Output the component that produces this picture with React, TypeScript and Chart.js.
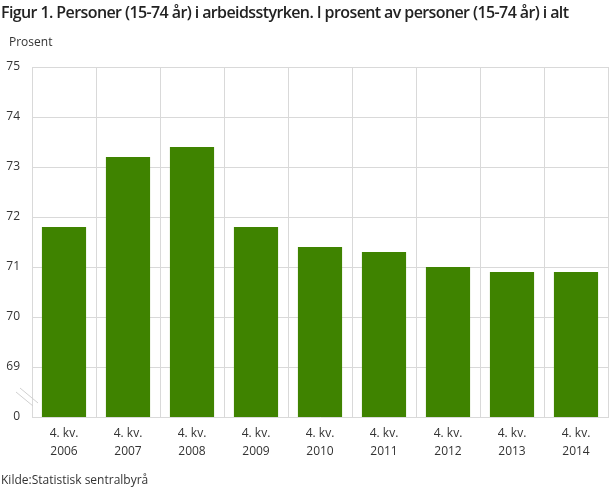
import { useEffect, useRef } from "react";
import { Chart, registerables } from "chart.js";

Chart.register(...registerables);

const quarters = ["4. kv.", "4. kv.", "4. kv.", "4. kv.", "4. kv.", "4. kv.", "4. kv.", "4. kv.", "4. kv."];
const years = ["2006", "2007", "2008", "2009", "2010", "2011", "2012", "2013", "2014"];
const shares = [71.8, 73.2, 73.4, 71.8, 71.4, 71.3, 71.0, 70.9, 70.9];
// the axis is broken: the lowest step is shown as 0
const yTicks = [68, 69, 70, 71, 72, 73, 74, 75];

const FONT = "'Open Sans', 'Noto Sans', sans-serif";

// two small slanted strokes that mark the break in the y axis
const axisBreak = {
    id: "axisBreak",
    afterDraw(chart: Chart) {
        const { ctx, chartArea } = chart;
        const y = chart.scales.y.getPixelForValue(68.4);
        const x = chartArea.left;
        ctx.save();
        ctx.strokeStyle = "#d0d0d0";
        ctx.lineWidth = 1;
        ctx.beginPath();
        ctx.moveTo(x - 12, y - 9);
        ctx.lineTo(x + 6, y + 6);
        ctx.moveTo(x - 16, y - 5);
        ctx.lineTo(x + 1, y + 9);
        ctx.stroke();
        ctx.restore();
    },
};

export default function App() {
    const canvasRef = useRef<HTMLCanvasElement | null>(null);

    useEffect(() => {
        document.body.style.margin = "0";
        const ctx = canvasRef.current?.getContext("2d");
        if (!ctx) return;

        const chart = new Chart(ctx, {
            type: "bar",
            data: {
                labels: quarters.map((q, i) => [q, years[i]]),
                datasets: [
                    {
                        data: shares.map((v) => [68, v]),
                        backgroundColor: "#3f8300",
                        barPercentage: 0.69,
                        categoryPercentage: 1,
                    },
                ],
            },
            options: {
                animation: false,
                responsive: false,
                layout: { padding: { top: 67, right: 1, left: 0, bottom: 0 } },
                plugins: {
                    legend: { display: false },
                    tooltip: { enabled: false },
                },
                scales: {
                    x: {
                        grid: { color: "#d9d9d9", drawTicks: false, offset: true },
                        border: { color: "#d9d9d9" },
                        ticks: {
                            color: "#333",
                            font: { family: FONT, size: 12, lineHeight: 1.5 },
                            padding: 8,
                            maxRotation: 0,
                        },
                        afterFit: (scale: any) => {
                            scale.height = 72;
                        },
                    },
                    y: {
                        min: 68,
                        max: 75,
                        afterBuildTicks: (scale: any) => {
                            scale.ticks = yTicks.map((value) => ({ value }));
                        },
                        grid: {
                            color: (c: any) => (c.tick && c.tick.value === 68 ? "rgba(0,0,0,0)" : "#d9d9d9"),
                            drawTicks: false,
                        },
                        border: { display: false },
                        ticks: {
                            color: "#333",
                            font: { family: FONT, size: 12 },
                            padding: 12,
                            callback: (v: any) => (v === 68 ? "0" : String(v)),
                        },
                        afterFit: (scale: any) => {
                            scale.width = 32;
                        },
                    },
                },
            },
            plugins: [axisBreak],
        });

        return () => chart.destroy();
    }, []);

    return (
        <div style={{ position: "relative", width: 609, height: 489, fontFamily: FONT, color: "#222" }}>
            <canvas ref={canvasRef} width={609} height={489} style={{ position: "absolute", left: 0, top: 0 }} />
            <div
                style={{
                    position: "absolute",
                    left: 1,
                    top: 1,
                    fontSize: 16,
                    fontWeight: 600,
                    letterSpacing: -0.6,
                    whiteSpace: "nowrap",
                }}
            >
                Figur 1. Personer (15-74 år) i arbeidsstyrken. I prosent av personer (15-74 år) i alt
            </div>
            <div style={{ position: "absolute", left: 9, top: 33, fontSize: 12, color: "#333" }}>Prosent</div>
            <div style={{ position: "absolute", left: 1, top: 471, fontSize: 12, color: "#333" }}>
                Kilde:Statistisk sentralbyrå
            </div>
        </div>
    );
}
